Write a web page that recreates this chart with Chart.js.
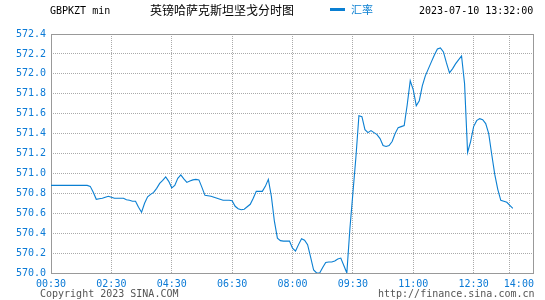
<!DOCTYPE html>
<html lang="zh">

<head>
    <meta charset="UTF-8">
    <title>GBPKZT min</title>
    <script src="https://cdn.jsdelivr.net/npm/chart.js"></script>
    <style>
        body {
            margin: 0;
            padding: 0;
            background: #fff;
        }

        .wrap {
            position: relative;
            width: 545px;
            height: 300px;
            font-family: 'DejaVu Sans Mono', monospace;
            font-size: 10px;
        }

        .txt {
            position: absolute;
            white-space: nowrap;
            line-height: 12px;
        }

        .title {
            font-family: 'Noto Sans CJK SC', sans-serif;
            font-size: 12px;
        }

        .legend-line {
            position: absolute;
            left: 330px;
            top: 8px;
            width: 15px;
            height: 3px;
            background: #0a7fd2;
        }
    </style>
</head>

<body>
    <div class="wrap">
        <canvas id="fxChart" width="545" height="300"></canvas>
        <div class="txt" style="left:50px; top:5px;">GBPKZT min</div>
        <div class="txt title" style="left:150px; top:4px;">英镑哈萨克斯坦坚戈分时图</div>
        <div class="legend-line"></div>
        <div class="txt title" style="left:351px; top:3px; color:#0a7fd2; font-size:11px;">汇率</div>
        <div class="txt" style="left:419px; top:5px;">2023-07-10 13:32:00</div>
        <div class="txt" style="left:40px; top:288px; color:#555;">Copyright 2023 SINA.COM</div>
        <div class="txt" style="left:378px; top:288px; color:#555;">http://finance.sina.com.cn</div>
    </div>

    <script>
        // data, one point per ~3px
        const rates = [
            570.88, 570.88, 570.88, 570.88, 570.88, 570.88, 570.88, 570.88, 570.88, 570.88,
            570.88, 570.88, 570.88, 570.87, 570.81, 570.74, 570.745, 570.75, 570.76, 570.77,
            570.76, 570.75, 570.75, 570.75, 570.75, 570.735, 570.73, 570.72, 570.72, 570.66,
            570.61, 570.70, 570.765, 570.79, 570.81, 570.85, 570.90, 570.93, 570.965, 570.92,
            570.855, 570.88, 570.95, 570.985, 570.945, 570.91, 570.925, 570.935, 570.94, 570.935,
            570.86, 570.78, 570.775, 570.77, 570.76, 570.75, 570.74, 570.73, 570.73, 570.73,
            570.725, 570.67, 570.645, 570.635, 570.64, 570.665, 570.69, 570.75, 570.82, 570.82,
            570.82, 570.87, 570.94, 570.77, 570.52, 570.35, 570.325, 570.32, 570.32, 570.32,
            570.25, 570.22, 570.285, 570.345, 570.33, 570.285, 570.16, 570.03, 570.00, 570.00,
            570.055, 570.105, 570.11, 570.11, 570.12, 570.14, 570.15, 570.075, 570.00, 570.44,
            570.80, 571.16, 571.58, 571.57, 571.44, 571.41, 571.43, 571.41, 571.39, 571.35,
            571.28, 571.27, 571.28, 571.32, 571.40, 571.46, 571.47, 571.48, 571.69, 571.93,
            571.84, 571.68, 571.73, 571.88, 571.98, 572.05, 572.12, 572.19, 572.25, 572.26,
            572.22, 572.11, 572.01, 572.05, 572.10, 572.14, 572.18, 571.90, 571.21, 571.32,
            571.47, 571.53, 571.55, 571.54, 571.50, 571.40, 571.19, 570.99, 570.84, 570.73,
            570.72, 570.71, 570.68, 570.65
        ];
        const tickPos = [0, 20, 40, 60, 80, 100, 120, 140, 152];
        const tickLabels = ['00:30', '02:30', '04:30', '06:30', '08:00', '09:30', '11:00', '12:30', '14:00'];
        const yMin = 570.0;
        const yMax = 572.4;
        const yStep = 0.2;

        const blue = '#0a7fd2';
        const labelBlue = '#0b7ad6';

        Chart.defaults.font.family = "'DejaVu Sans Mono', monospace";
        Chart.defaults.font.size = 10;

        // solid grey frame round the plot
        const framePlugin = {
            id: 'frame',
            beforeDatasetsDraw(chart) {
                const a = chart.chartArea;
                const c = chart.ctx;
                c.save();
                c.strokeStyle = '#999';
                c.lineWidth = 1;
                c.strokeRect(Math.round(a.left) + 0.5, Math.round(a.top) + 0.5,
                    Math.round(a.right - a.left) - 1, Math.round(a.bottom - a.top));
                c.restore();
            }
        };

        new Chart(document.getElementById('fxChart'), {
            type: 'line',
            data: {
                datasets: [{
                    label: '汇率',
                    data: rates.map((v, i) => ({ x: i, y: v })),
                    borderColor: blue,
                    borderWidth: 1.1,
                    pointRadius: 0,
                    tension: 0,
                    fill: false
                }]
            },
            options: {
                responsive: false,
                animation: false,
                events: [],
                layout: { padding: { top: 34, right: 11, left: 0, bottom: 0 } },
                plugins: {
                    legend: { display: false },
                    tooltip: { enabled: false }
                },
                scales: {
                    x: {
                        type: 'linear',
                        min: 0,
                        max: 160,
                        afterBuildTicks: s => { s.ticks = tickPos.map(v => ({ value: v })); },
                        afterFit: s => { s.height = 27; },
                        ticks: {
                            autoSkip: false,
                            maxRotation: 0,
                            color: labelBlue,
                            padding: 5,
                            callback: (v, i) => i === tickLabels.length - 1 ? '   ' + tickLabels[i] : tickLabels[i]
                        },
                        grid: { color: '#aaa', drawTicks: false },
                        border: { display: false, dash: [1, 1] }
                    },
                    y: {
                        min: yMin,
                        max: yMax,
                        afterFit: s => { s.width = 51; },
                        ticks: {
                            stepSize: yStep,
                            color: labelBlue,
                            padding: 5,
                            callback: v => v.toFixed(1)
                        },
                        grid: { color: '#aaa', drawTicks: false },
                        border: { display: false, dash: [1, 1] }
                    }
                }
            },
            plugins: [framePlugin]
        });
    </script>
</body>

</html>
